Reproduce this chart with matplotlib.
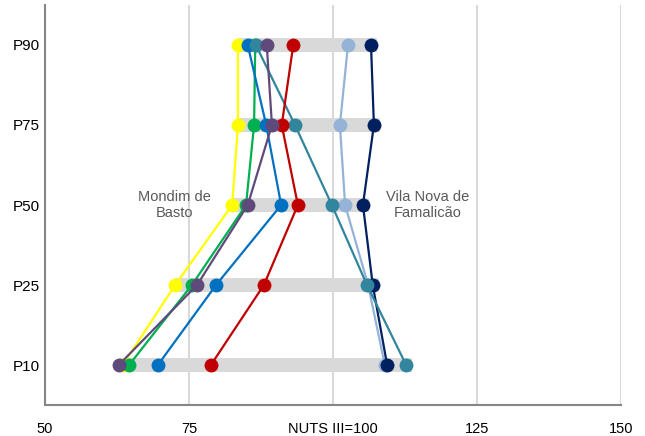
import matplotlib
matplotlib.use("Agg")
import matplotlib.pyplot as plt

plt.rcParams['font.family'] = ['Liberation Sans', 'DejaVu Sans']

levels = ["P10", "P25", "P50", "P75", "P90"]
x_ticks = [50, 75, 100, 125, 150]
x_tick_labels = ["50", "75", "NUTS III=100", "125", "150"]

# values per series, ordered P10, P25, P50, P75, P90
yellow = [63.5, 72.6, 82.5, 83.5, 83.5]
green = [64.6, 75.5, 84.9, 86.3, 86.5]
blue = [69.6, 79.7, 91.0, 88.4, 85.2]
lightblue = [109.0, 106.1, 102.1, 101.2, 102.6]
navy = [109.4, 106.9, 105.2, 107.1, 106.6]
teal = [112.7, 105.9, 99.8, 93.4, 86.6]
red = [78.8, 88.0, 93.9, 91.1, 93.1]
purple = [62.8, 76.4, 85.2, 89.4, 88.5]

series = [
    (yellow, "#FFFF00"),
    (green, "#00B050"),
    (blue, "#0070C0"),
    (lightblue, "#95B3D7"),
    (navy, "#002060"),
    (teal, "#31859C"),
    (red, "#C00000"),
    (purple, "#604A7B"),
]

fig = plt.figure(figsize=(6.45, 4.36), dpi=100)
ax = fig.add_axes([45/645, 1-405/436, (621-45)/645, 400/436])

ypos = list(range(len(levels)))

# gray range bars
for i in ypos:
    vals = [s[0][i] for s in series]
    lo, hi = min(vals), max(vals)
    ax.barh(i, hi - lo + 1.0, left=lo, height=0.17, color="#D9D9D9", zorder=1)

for vals, col in series:
    ax.plot(vals, ypos, color=col, lw=1.6, marker="o", markersize=10,
            markeredgewidth=0, zorder=3)

ax.set_xlim(50, 150)
ax.set_ylim(-0.5, 4.5)
ax.set_xticks(x_ticks)
ax.set_xticklabels(x_tick_labels, fontsize=10.5)
ax.set_yticks(ypos)
ax.set_yticklabels(levels, fontsize=11)
ax.tick_params(axis="both", length=0)
ax.tick_params(axis="x", pad=12)
ax.tick_params(axis="y", pad=4)

ax.grid(axis="x", color="#D9D9D9", lw=1.5, zorder=0)
ax.set_axisbelow(True)
for s in ["top", "right"]:
    ax.spines[s].set_visible(False)
for s in ["left", "bottom"]:
    ax.spines[s].set_color("#868686")
    ax.spines[s].set_linewidth(1.5)

ax.text(72.5, 2.0, "Mondim de\nBasto", ha="center", va="center",
        fontsize=10.5, color="#595959", zorder=2, linespacing=1.25)
ax.text(116.4, 2.0, "Vila Nova de\nFamalicão", ha="center", va="center",
        fontsize=10.5, color="#595959", zorder=2, linespacing=1.25)

fig.savefig("out.png", dpi=100)
